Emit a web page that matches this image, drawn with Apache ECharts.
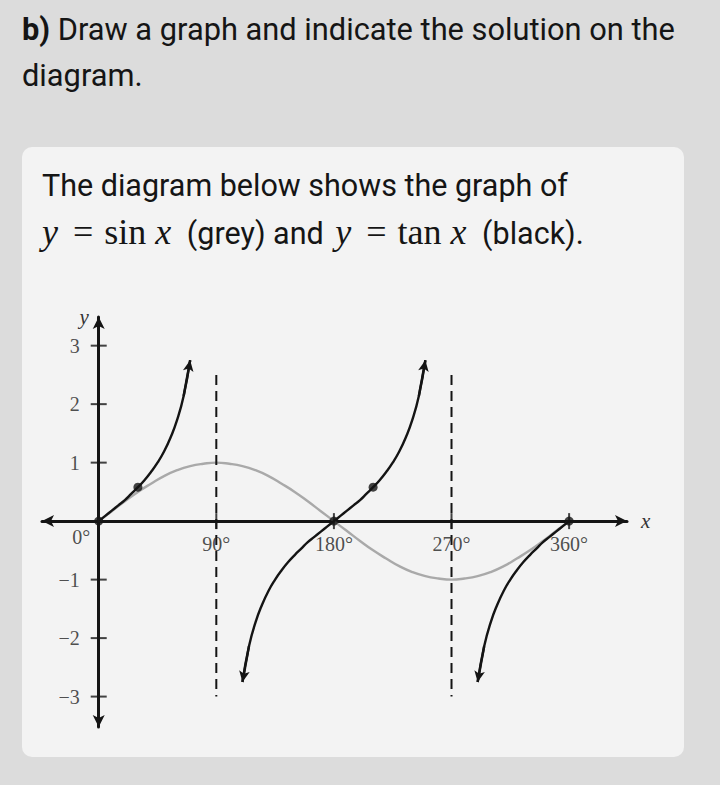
<!DOCTYPE html>
<html><head><meta charset="utf-8">
<script src="https://cdn.jsdelivr.net/npm/echarts@6/dist/echarts.min.js"></script>
<style>
html,body{margin:0;padding:0;background:#dcdcdc;width:720px;height:785px;overflow:hidden}
#title{position:absolute;left:22px;top:7px;font-family:Roboto;font-size:30.8px;line-height:46px;color:#151515;white-space:nowrap}
#card{position:absolute;left:22px;top:147px;width:662px;height:610px;border-radius:10px;background:#f3f3f3}
#intro{position:absolute;left:42px;top:162px;font-family:Roboto;font-size:30.5px;line-height:47px;color:#151515;white-space:nowrap}
.m{font-family:'Liberation Serif';font-style:italic;font-size:36px}
.r{font-family:'Liberation Serif';font-size:36px}
.eq{margin:0 11px 0 15px}
.fx{margin-left:9px;margin-right:8px}
.yv{margin-left:4px}
#c{position:absolute;left:0;top:0;width:720px;height:785px}
</style>
</head><body>
<div id="title"><b>b)</b> Draw a graph and indicate the solution on the<br>diagram.</div>
<div id="card"></div>
<div id="intro">The diagram below shows the graph of<br><span class="m">y</span><span class="r eq">=</span><span class="r">sin</span><span class="m fx">x</span> (grey) and <span class="m yv">y</span><span class="r eq">=</span><span class="r">tan</span><span class="m fx">x</span> (black).</div>
<div id="c"></div>
<script>
// y = sin x (grey), read every 10 degrees
const sinX = [0,10,20,30,40,50,60,70,80,90,100,110,120,130,140,150,160,170,180,190,200,210,220,230,240,250,260,270,280,290,300,310,320,330,340,350,360];
const sinY = [0,0.17,0.34,0.5,0.64,0.77,0.87,0.94,0.98,1,0.98,0.94,0.87,0.77,0.64,0.5,0.34,0.17,0,-0.17,-0.34,-0.5,-0.64,-0.77,-0.87,-0.94,-0.98,-1,-0.98,-0.94,-0.87,-0.77,-0.64,-0.5,-0.34,-0.17,0];
// y = tan x (black), three branches
const tan1X = [0,5,10,15,20,25,30,35,40,45,50,55,60,65,70];
const tan1Y = [0,0.09,0.18,0.27,0.36,0.47,0.58,0.7,0.84,1,1.19,1.43,1.73,2.14,2.75];
const tan2X = [110,115,120,125,130,135,140,145,150,155,160,165,170,175,180,185,190,195,200,205,210,215,220,225,230,235,240,245,250];
const tan2Y = [-2.75,-2.14,-1.73,-1.43,-1.19,-1,-0.84,-0.7,-0.58,-0.47,-0.36,-0.27,-0.18,-0.09,0,0.09,0.18,0.27,0.36,0.47,0.58,0.7,0.84,1,1.19,1.43,1.73,2.14,2.75];
const tan3X = [290,295,300,305,310,315,320,325,330,335,340,345,350,355,360];
const tan3Y = [-2.75,-2.14,-1.73,-1.43,-1.19,-1,-0.84,-0.7,-0.58,-0.47,-0.36,-0.27,-0.18,-0.09,0];
// dashed asymptotes
const asymptoteX = [90,270];
const asymptoteTop = 2.5;
const asymptoteBottom = -3;
// ticks and labels
const xTickValues = [90,180,270,360];
const xTickLabels = ['90°','180°','270°','360°'];
const yTickValues = [-3,-2,-1,1,2,3];
const yTickLabels = ['−3','−2','−1','1','2','3'];
const originLabel = '0°';
// marked points
const dotX = [0,30,180,210,360];
const dotY = [0,0.58,0,0.58,0];

const zip = (a,b) => a.map((v,i)=>[v,b[i]]);
const BLACK = '#141414';
const serif = 'Liberation Serif';
const labelFont = {fontFamily:serif, fontSize:20, color:'#222'};

function tanSeries(xs, ys, arrowStart, arrowEnd){
  const pts = zip(xs, ys);
  const ml = [];
  if (arrowStart) ml.push([{coord: pts[1]}, {coord: pts[0]}]);
  if (arrowEnd) ml.push([{coord: pts[pts.length-2]}, {coord: pts[pts.length-1]}]);
  return {
    type:'line', data: pts, smooth: true, showSymbol:false, z:4,
    lineStyle:{color:BLACK, width:2.4}, silent:true,
    markLine:{silent:true, symbol:['none','arrow'], symbolSize:[8,11], label:{show:false},
      lineStyle:{color:BLACK, width:2.4, type:'solid'}, data: ml, animation:false}
  };
}

const chart = echarts.init(document.getElementById('c'), null, {renderer:'svg'});
const series = [
  {type:'line', data: zip(sinX, sinY), smooth:true, showSymbol:false, z:3,
   lineStyle:{color:'#a9a9a9', width:2.4}},
  ...asymptoteX.map(x => ({type:'line', data:[[x,asymptoteTop],[x,asymptoteBottom]], showSymbol:false, z:3,
     lineStyle:{color:BLACK, width:2, type:[10,6]}})),
  tanSeries(tan1X, tan1Y, false, true),
  tanSeries(tan2X, tan2Y, true, true),
  tanSeries(tan3X, tan3Y, true, false),
  {type:'scatter', data: xTickValues.map((v,i)=>({value:[v,0], name:xTickLabels[i]})), symbol:'rect', symbolSize:[2,16], z:5,
   itemStyle:{color:BLACK},
   label:Object.assign({show:true, position:'bottom', distance:5, formatter:p=>p.name}, labelFont)},
  {type:'scatter', data: yTickValues.map((v,i)=>({value:[0,v], name:yTickLabels[i]})), symbol:'rect', symbolSize:[16,2], z:5,
   itemStyle:{color:BLACK},
   label:Object.assign({show:true, position:'left', distance:11, formatter:p=>p.name}, labelFont)},
  {type:'scatter', data: zip(dotX, dotY).map((p,i)=> i===0 ? {value:p, label:Object.assign({show:true, formatter:originLabel, position:'left', distance:4, offset:[0,16]}, labelFont)} : p),
   symbol:'circle', symbolSize:9, z:6, itemStyle:{color:BLACK}}
];

chart.setOption({
  animation:false,
  backgroundColor:'transparent',
  grid:{left:42, top:317, width:585, height:410, containLabel:false},
  xAxis:{type:'value', min:-43.4, max:404.3,
    axisLine:{onZero:true, symbol:['arrow','arrow'], symbolSize:[9,12], lineStyle:{color:BLACK, width:3}},
    axisTick:{show:false}, splitLine:{show:false}, axisLabel:{show:false},
    name:'x', nameLocation:'end', nameGap:14,
    nameTextStyle:{fontFamily:serif, fontStyle:'italic', fontSize:21, color:'#333'}},
  yAxis:{type:'value', min:-3.52, max:3.49,
    axisLine:{onZero:true, symbol:['arrow','arrow'], symbolSize:[9,12], lineStyle:{color:BLACK, width:3}},
    axisTick:{show:false}, splitLine:{show:false}, axisLabel:{show:false},
    name:'y', nameLocation:'end', nameGap:0,
    nameTextStyle:{fontFamily:serif, fontStyle:'italic', fontSize:21, color:'#333', align:'right', verticalAlign:'middle', padding:[0,10,6,0]}},
  series: series
});
</script>
</body></html>
